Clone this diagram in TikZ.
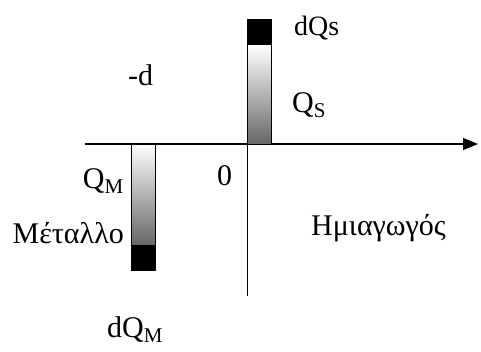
\documentclass[tikz,border=0pt]{standalone}
\usepackage{fontspec}
\setmainfont{Liberation Serif}
\usetikzlibrary{arrows.meta}
\begin{document}
\begin{tikzpicture}[x=1pt,y=-1pt,
  lbl/.style={inner sep=0pt,anchor=base west,font=\fontsize{30}{34}\selectfont},
  bar/.style={draw=black,line width=0.8pt}]
\useasboundingbox (0,0) rectangle (481,351);
% axes
\coordinate (xl) at (85,144);
\coordinate (xr) at (478,144);
\coordinate (yt) at (247,19);
\coordinate (yb) at (247,296);
\draw[line width=1.2pt,-{Triangle[length=15pt,width=12pt]}] (xl) -- (xr);
\draw[line width=0.6pt] (yt) -- (yb);
% semiconductor bar
\shade[top color=white,bottom color=black!60] (247,45) rectangle (271,144);
\fill[black] (247,19) rectangle (271,45);
\draw[bar] (247,19) rectangle (271,144);
% metal bar
\shade[top color=white,bottom color=black!60] (131,144) rectangle (155,245);
\fill[black] (131,245) rectangle (155,270);
\draw[bar] (131,144) rectangle (155,270);
% labels
\node[lbl,font=\fontsize{28}{32}\selectfont] (dqs) at (294,35) {dQs};
\node[lbl] (qs) at (292,112) {Q\textsubscript{S}};
\node[lbl] (d) at (128,85) {-d};
\node[lbl] (zero) at (217,185) {0};
\node[lbl,anchor=base east] (qm) at (124,188) {Q\textsubscript{M}};
\node[lbl,anchor=base east] (met) at (124,243) {Μέταλλο};
\node[lbl] (semi) at (311,235) {Ημιαγωγός};
\node[lbl] (dqm) at (107,337) {dQ\textsubscript{M}};
\end{tikzpicture}
\end{document}
